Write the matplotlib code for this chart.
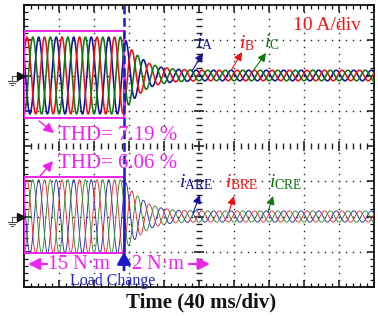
import numpy as np
import matplotlib
matplotlib.use('Agg')
import matplotlib.pyplot as plt
from matplotlib.patches import Rectangle

plt.rcParams['font.family'] = ['Liberation Serif', 'DejaVu Serif']
plt.rcParams['mathtext.fontset'] = 'custom'
plt.rcParams['mathtext.rm'] = 'Liberation Serif'
plt.rcParams['mathtext.it'] = 'Liberation Serif:italic'
plt.rcParams['mathtext.bf'] = 'Liberation Serif:bold'

# ---------------- data ----------------
ms_per_div = 40
amps_per_div = 10
freq_hz = 50
load_change_ms = 114.3
env_time_ms = [0, 114.3, 121, 132, 144, 156, 172, 200, 400]
env_ch1_amp = [10.9, 10.9, 7.8, 5.2, 3.3, 2.4, 1.8, 1.5, 1.5]
env_ch2_amp = [10.4, 10.4, 7.8, 5.4, 3.4, 2.5, 1.8, 1.6, 1.6]
phase_names = ['A', 'B', 'C']
peak_time_ms = [16.8, 3.4, 10.1]
ch1_ground_div = 2.0
ch2_ground_div = -2.0
ch1_colors = ['#10109a', '#ee1010', '#0f780f']
ch2_colors = ['#2a2aa8', '#e83030', '#2f8a2f']
box1_div = [0.79, 3.26]
box2_div = [-3.04, -0.88]
thd_labels = ['THD= 7.19 %', 'THD= 6.06 %']
torque_labels = ['15 N\u00b7m', '2 N\u00b7m']

W, H = 378, 316
fig = plt.figure(figsize=(W / 100, H / 100), dpi=100)
ax = fig.add_axes([24 / W, 1 - 287 / H, 350 / W, 282 / H])
ax.set_xlim(0, 10)
ax.set_ylim(-4, 4)


def P(x, y):
    return ((x - 24) / 35.0, (146 - y) / 35.25)


# ---------------- grid ----------------
dots = np.arange(0, 10.001, 0.2)
dots_y = np.arange(-4, 4.001, 0.2)
for gx in range(1, 10):
    if gx == 5:
        continue
    ax.plot(np.full_like(dots_y, gx), dots_y, ls='', marker='s', ms=1.0,
            mec='none', color='#222222', zorder=1)
for gy in range(-3, 4):
    if gy == 0:
        continue
    ax.plot(dots, np.full_like(dots, gy), ls='', marker='s', ms=1.0,
            mec='none', color='#222222', zorder=1)
# center axes with ticks
minor_x = [v for v in dots if abs(v - round(v)) > 1e-6]
major_x = np.arange(0, 11, 1)
ax.plot(minor_x, np.zeros(len(minor_x)), ls='', marker='|', ms=4, mew=1.0,
        color='#222222', zorder=1)
ax.plot(major_x, np.zeros(len(major_x)), ls='', marker='|', ms=7, mew=1.2,
        color='#222222', zorder=1)
minor_y = [v for v in dots_y if abs(v - round(v)) > 1e-6]
major_y = np.arange(-4, 5, 1)
ax.plot(np.full(len(minor_y), 5.0), minor_y, ls='', marker='_', ms=4, mew=1.0,
        color='#222222', zorder=1)
ax.plot(np.full(len(major_y), 5.0), major_y, ls='', marker='_', ms=7, mew=1.2,
        color='#222222', zorder=1)

ax.set_xticks(np.arange(0, 11, 1))
ax.set_yticks(np.arange(-4, 5, 1))
ax.set_xticks(np.arange(0, 10.01, 0.2), minor=True)
ax.set_yticks(np.arange(-4, 4.01, 0.2), minor=True)
ax.tick_params(which='both', direction='in', top=True, right=True,
               labelbottom=False, labelleft=False, color='#111111')
ax.tick_params(which='major', length=5, width=1.1)
ax.tick_params(which='minor', length=3, width=0.9)
for s in ax.spines.values():
    s.set_linewidth(1.3)
    s.set_color('#111111')

# ---------------- waveforms ----------------
t = np.linspace(0, 400, 8001)
xd = t / ms_per_div
env1 = np.interp(t, env_time_ms, env_ch1_amp)
env2 = np.interp(t, env_time_ms, env_ch2_amp)
for k in range(3):
    ph = np.cos(2 * np.pi * freq_hz * (t - peak_time_ms[k]) / 1000.0)
    ax.plot(xd, ch1_ground_div + env1 * ph / amps_per_div, color=ch1_colors[k],
            lw=1.15, zorder=3)
    ax.plot(xd, ch2_ground_div + env2 * ph / amps_per_div, color=ch2_colors[k],
            lw=0.65, zorder=3)

lc = load_change_ms / ms_per_div
mag = '#ee22ee'
for b in (box1_div, box2_div):
    ax.add_patch(Rectangle((0, b[0]), lc, b[1] - b[0], fill=False, ec=mag,
                           lw=1.4, zorder=4))

# load change line
blue = '#1a1acc'
ax.plot([lc, lc], [4, box2_div[1]], color=blue, lw=1.8, ls=(0, (3.5, 1.5)),
        zorder=5)
ax.plot([lc, lc], [box2_div[1], box2_div[0]], color=blue, lw=1.8, zorder=5)
ax.annotate('', xy=(lc, P(0, 252)[1]), xytext=(lc, P(0, 270)[1]),
            arrowprops=dict(arrowstyle='-|>,head_width=0.4,head_length=0.7',
                            color=blue, lw=2.0, shrinkA=0, shrinkB=0),
            annotation_clip=False, zorder=6)
ax.text(*P(113, 281), 'Load Change', color='#2424c4', fontsize=11.5,
        ha='center', va='center', zorder=6)

# ground markers
for g in (ch1_ground_div, ch2_ground_div):
    ax.plot(P(20.5, 0)[0], g, marker='>', ms=6, color='#111111',
            clip_on=False, zorder=6)
    gx0 = P(12, 0)[0]
    ax.plot([gx0, P(17, 0)[0]], [g, g], color='#555555', lw=0.8, clip_on=False)
    ax.plot([gx0, gx0], [g, g - 5 / 35.25], color='#555555', lw=0.8, clip_on=False)
    for hw, dy in [(4.5, 5), (3, 7), (1.2, 9)]:
        ax.plot([P(12 - hw, 0)[0], P(12 + hw, 0)[0]], [g - dy / 35.25] * 2,
                color='#555555', lw=0.8, clip_on=False)

# scale label
ax.text(*P(293, 30), '10 A/div', color='#ee1515', fontsize=14, va='baseline',
        ha='left', zorder=6)


# phase labels with arrows
def label(txt, pos, color, a_from, a_to):
    ax.text(*P(*pos), txt, color=color, fontsize=14, va='baseline', ha='left',
            zorder=6)
    ax.annotate('', xy=P(*a_to), xytext=P(*a_from),
                arrowprops=dict(arrowstyle='-|>,head_width=0.25,head_length=0.5',
                                color=color, lw=0.8, shrinkA=0, shrinkB=0),
                zorder=6)


label(r'$i_{\mathrm{A}}$', (196, 47), ch1_colors[0], (192, 71), (203, 53))
label(r'$i_{\mathrm{B}}$', (239, 48), ch1_colors[1], (232, 69), (242, 52))
label(r'$i_{\mathrm{C}}$', (264, 47), ch1_colors[2], (253, 71), (266, 53))
label(r'$i_{\mathrm{ARE}}$', (179, 187), ch1_colors[0], (193, 213), (200, 195))
label(r'$i_{\mathrm{BRE}}$', (225, 187), ch1_colors[1], (229, 212), (234, 196))
label(r'$i_{\mathrm{CRE}}$', (269, 187), ch1_colors[2], (268, 212), (273, 196))

# THD labels
ax.text(*P(58, 140), thd_labels[0], color=mag, fontsize=15, va='baseline',
        ha='left', zorder=6, clip_on=False)
ax.text(*P(58, 168), thd_labels[1], color=mag, fontsize=15, va='baseline',
        ha='left', zorder=6, clip_on=False)
for a_from, a_to in [((39, 121), (54, 133)), ((40, 176), (53, 161))]:
    ax.annotate('', xy=P(*a_to), xytext=P(*a_from),
                arrowprops=dict(arrowstyle='-|>,head_width=0.3,head_length=0.6',
                                color=mag, lw=1.0, shrinkA=0, shrinkB=0),
                zorder=6)

# torque labels
ax.text(*P(48, 269), torque_labels[0], color=mag, fontsize=14.5, va='baseline',
        ha='left', zorder=6)
ax.text(*P(132, 269), torque_labels[1], color=mag, fontsize=14.5, va='baseline',
        ha='left', zorder=6)
for a_from, a_to in [((47, 264), (28, 264)), ((189, 264), (210, 264))]:
    ax.annotate('', xy=P(*a_to), xytext=P(*a_from),
                arrowprops=dict(arrowstyle='-|>,head_width=0.35,head_length=0.7',
                                color=mag, lw=1.6, shrinkA=0, shrinkB=0),
                zorder=6)

fig.text(201 / W, 1 - 302 / H, 'Time (40 ms/div)', fontsize=15,
         fontweight='bold', ha='center', va='center', color='#111111')

fig.savefig('out.png', dpi=100, facecolor='white')
